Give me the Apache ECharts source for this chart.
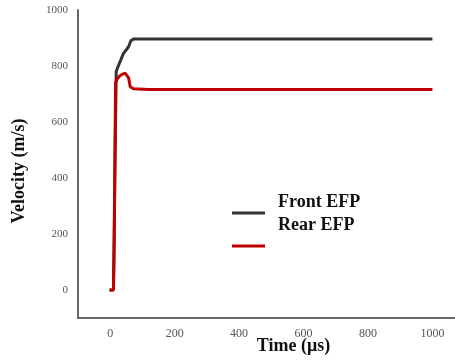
<!DOCTYPE html>
<html>
<head>
<meta charset="utf-8">
<script src="https://cdn.jsdelivr.net/npm/echarts@6/dist/echarts.min.js"></script>
<style>html,body{margin:0;padding:0;background:#fff}#c{width:455px;height:360px}</style>
</head>
<body>
<div id="c"></div>
<script>
var xTicks = [0, 200, 400, 600, 800, 1000];
var yTicks = [0, 200, 400, 600, 800, 1000];
var frontT = [-2, 10, 13, 16, 18.6, 25, 33, 41, 50, 57, 64, 72, 90, 1000];
var frontV = [0, 0, 250, 550, 780, 800, 822, 845, 858, 869, 890, 896, 896, 896];
var rearT = [-2, 10, 12, 14, 16.7, 22, 31, 40, 47, 53, 57, 62, 72, 119, 1000];
var rearV = [0, 0, 140, 420, 740, 755, 766, 772, 774, 770, 758, 726, 719, 716, 716];
var seriesNames = ['Front EFP', 'Rear EFP'];

function pairs(t, v) { return t.map(function (x, i) { return [x, v[i]]; }); }
function plain(v) { return String(v); }

var serif = '"Liberation Serif", "DejaVu Serif", serif';
var chart = echarts.init(document.getElementById('c'));
chart.setOption({
  animation: false,
  grid: { left: 78, right: 0, top: 10, bottom: 42, outerBoundsMode: 'none', containLabel: false },
  xAxis: {
    type: 'value', min: -100, max: 1070,
    axisLine: { show: true, onZero: false, lineStyle: { color: '#666', width: 2 } },
    axisTick: { show: false },
    splitLine: { show: false },
    axisLabel: { customValues: xTicks, formatter: plain, color: '#555', fontFamily: serif, fontSize: 12, margin: 10 },
    name: 'Time (μs)', nameLocation: 'middle', nameGap: 19, nameMoveOverlap: false,
    nameTextStyle: { fontFamily: serif, fontWeight: 'bold', fontSize: 18, color: '#111', align: 'center', padding: [0, 0, 0, 54] }
  },
  yAxis: {
    type: 'value', min: -100, max: 1000,
    axisLine: { show: true, onZero: false, lineStyle: { color: '#666', width: 2 } },
    axisTick: { show: false },
    splitLine: { show: false },
    axisLabel: { customValues: yTicks, formatter: plain, color: '#555', fontFamily: serif, fontSize: 11, margin: 10 },
    name: 'Velocity (m/s)', nameLocation: 'middle', nameGap: 50, nameRotate: 90, nameMoveOverlap: false,
    nameTextStyle: { fontFamily: serif, fontWeight: 'bold', fontSize: 18, color: '#111', padding: [0, 14, 0, 0] }
  },
  series: [
    { name: seriesNames[0], type: 'line', data: pairs(frontT, frontV), showSymbol: false,
      lineStyle: { color: '#333', width: 3 }, itemStyle: { color: '#333' } },
    { name: seriesNames[1], type: 'line', data: pairs(rearT, rearV), showSymbol: false,
      lineStyle: { color: '#c00000', width: 3 }, itemStyle: { color: '#c00000' } }
  ],
  graphic: [
    { type: 'line', shape: { x1: 232, y1: 213, x2: 265, y2: 213 }, style: { stroke: '#333', lineWidth: 3 } },
    { type: 'line', shape: { x1: 232, y1: 246, x2: 265, y2: 246 }, style: { stroke: '#c00000', lineWidth: 3 } },
    { type: 'text', left: 278, top: 193, style: { text: seriesNames[0], font: 'bold 18px ' + serif, fill: '#111' } },
    { type: 'text', left: 278, top: 216, style: { text: seriesNames[1], font: 'bold 18px ' + serif, fill: '#111' } }
  ]
});
</script>
</body>
</html>
